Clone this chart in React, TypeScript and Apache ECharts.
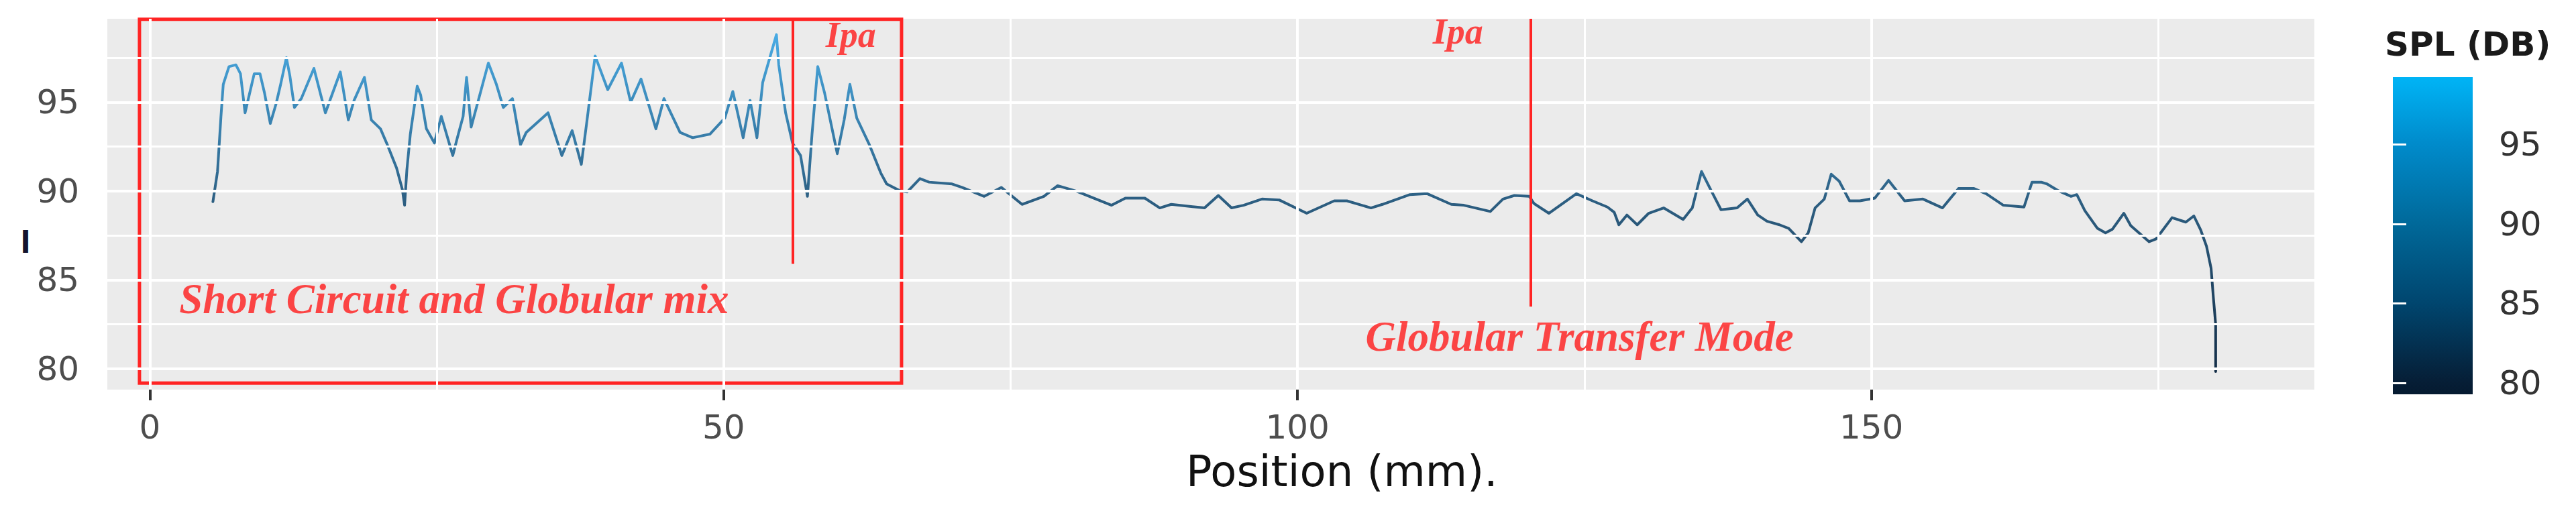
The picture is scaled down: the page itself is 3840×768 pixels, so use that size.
import React, { useEffect, useRef } from "react";
import * as echarts from "echarts";

// ---- data ----
const positions = [
  5.5, 5.9, 6.2, 6.4, 6.9, 7.5, 7.9, 8.3, 8.7, 9.1, 9.6, 10.0, 10.5, 11.0, 11.4, 11.9, 12.2, 12.6, 13.2, 14.3,
  15.3, 16.6, 17.3, 17.8, 18.7, 19.3, 20.1, 20.7, 21.5, 22.0, 22.2, 22.4, 22.7, 23.3, 23.6, 24.1, 24.8, 25.4,
  26.4, 26.8, 27.3, 27.6, 28.0, 29.0, 29.5, 30.2, 30.8, 31.6, 32.3, 32.8, 34.7, 35.9, 36.8, 37.6, 38.1, 38.8,
  39.9, 41.1, 41.9, 42.8, 44.1, 44.8, 46.2, 47.3, 48.8, 50.1, 50.8, 51.7, 52.3, 52.9, 53.4, 54.6, 54.8, 55.4,
  56.0, 56.7, 57.3, 57.7, 58.2, 58.8, 59.9, 60.5, 61.0, 61.6, 62.7, 63.7, 64.2, 65.4, 66.0, 67.1, 67.9, 69.9,
  70.8, 72.7, 74.2, 76.0, 77.9, 79.1, 80.7, 83.8, 85.0, 86.7, 88.0, 89.0, 91.9, 93.1, 94.25, 95.3, 96.9, 98.4,
  100.8, 103.2, 104.3, 106.4, 107.4, 109.8, 111.3, 113.4, 114.5, 116.8, 117.9, 118.9, 120.2, 120.6, 121.9,
  124.3, 125.7, 127.0, 127.6, 128.0, 128.7, 129.6, 130.6, 131.9, 133.6, 134.4, 135.2, 136.1, 136.9, 138.3,
  139.2, 140.1, 140.9, 142.0, 142.8, 143.9, 144.5, 145.1, 145.9, 146.5, 147.2, 148.1, 149.0, 150.3, 151.5,
  152.9, 154.5, 156.2, 157.6, 158.9, 160.0, 161.5, 163.3, 164.0, 164.8, 165.3, 166.2, 167.4, 167.9, 168.6,
  169.7, 170.4, 171.0, 172.0, 172.6, 174.2, 174.8, 176.2, 177.4, 178.1, 178.7, 179.2, 179.6, 179.8, 180.0, 180.0,
];
const spl = [
  89.4, 91.1, 94.2, 96.0, 97.0, 97.1, 96.6, 94.4, 95.5, 96.6, 96.6, 95.5, 93.8, 94.9, 96.0, 97.5, 96.5, 94.7, 95.2, 96.9,
  94.4, 96.7, 94.0, 95.1, 96.4, 94.0, 93.5, 92.6, 91.3, 90.1, 89.2, 91.2, 93.2, 95.9, 95.4, 93.5, 92.7, 94.2,
  92.0, 93.0, 94.2, 96.4, 93.6, 96.0, 97.2, 96.0, 94.7, 95.2, 92.6, 93.3, 94.4, 92.0, 93.4, 91.5, 94.0, 97.6,
  95.7, 97.2, 95.0, 96.3, 93.5, 95.2, 93.3, 93.0, 93.2, 94.1, 95.6, 93.0, 95.1, 93.0, 96.1, 98.8, 97.1, 94.4,
  92.7, 92.0, 89.7, 93.2, 97.0, 95.5, 92.1, 94.0, 96.0, 94.1, 92.6, 91.0, 90.4, 90.0, 89.95, 90.7, 90.5, 90.4,
  90.2, 89.7, 90.2, 89.25, 89.7, 90.3, 90.0, 89.2, 89.6, 89.6, 89.05, 89.25, 89.05, 89.75, 89.05, 89.2, 89.55, 89.5,
  88.75, 89.45, 89.45, 89.05, 89.25, 89.8, 89.85, 89.25, 89.2, 88.85, 89.55, 89.75, 89.7, 89.3, 88.75,
  89.85, 89.45, 89.1, 88.8, 88.1, 88.65, 88.1, 88.75, 89.05, 88.4, 89.05, 91.1, 89.95, 88.95, 89.05,
  89.55, 88.65, 88.3, 88.1, 87.9, 87.15, 87.65, 89.05, 89.55, 90.95, 90.55, 89.45, 89.45, 89.6, 90.6,
  89.45, 89.55, 89.05, 90.15, 90.15, 89.85, 89.2, 89.1, 90.5, 90.5, 90.4, 90.05, 89.7, 89.8, 88.9,
  87.9, 87.65, 87.85, 88.75, 88.05, 87.15, 87.3, 88.5, 88.25, 88.6, 87.8, 86.9, 85.65, 84.0, 82.5, 79.85,
];
const xTicks = [0, 50, 100, 150];
const xMinor = [25, 75, 125, 175];
const yTicks = [80, 85, 90, 95];
const yMinor = [82.5, 87.5, 92.5, 97.5];
const legendTicks = [80, 85, 90, 95];
const xRange = [-3.7, 188.6];
const yRange = [78.83, 99.69];
const legendRange = [79.28, 99.24];
const boxCorners = [[-0.9, 99.66], [65.5, 79.2]];
const redLineX = [56.0, 120.3];
const redLineTop = [99.69, 99.69];
const redLineBottom = [85.9, 83.5];
const annotationTexts = ["Short Circuit and Globular mix", "Ipa", "Ipa", "Globular Transfer Mode"];
const annotationX = [2.6, 61.1, 114.0, 105.95];
const annotationY = [83.92, 98.78, 98.94, 81.81];
const xTitle = "Position (mm).";
const legendTitle = "SPL (DB)";
const yTitleFragment = "l";

const SANS = "'DejaVu Sans', 'Liberation Sans', sans-serif";
const SERIF = "'Liberation Serif', 'Times New Roman', serif";

export default function App() {
  const ref = useRef<HTMLDivElement>(null);

  useEffect(() => {
    document.body.style.margin = "0";
    document.body.style.overflow = "hidden";
    if (!ref.current) return;
    const chart = echarts.init(ref.current, undefined, { renderer: "svg" });
    const data = positions.map((x, i) => [x, spl[i]]);

    const gridLines = [
      ...yTicks.map((v) => ({ yAxis: v, lineStyle: { width: 4 } })),
      ...yMinor.map((v) => ({ yAxis: v, lineStyle: { width: 3 } })),
      ...xTicks.map((v) => ({ xAxis: v, lineStyle: { width: 4 } })),
      ...xMinor.map((v) => ({ xAxis: v, lineStyle: { width: 3 } })),
    ];

    const annotations = annotationTexts.map((t, i) => ({
      name: t,
      value: [annotationX[i], annotationY[i]],
      label: {
        align: t === "Ipa" ? "center" : "left",
        fontSize: t === "Ipa" ? 54 : 63,
      },
    }));

    const option: any = {
      animation: false,
      backgroundColor: "#ffffff",
      grid: [
        { left: 160, top: 28, width: 3290, height: 553, show: true, backgroundColor: "#EBEBEB", borderWidth: 0 },
        { left: 3567, top: 115, width: 119, height: 473, show: false },
      ],
      xAxis: [
        {
          type: "value", gridIndex: 0, min: xRange[0], max: xRange[1],
          axisLine: { show: false }, splitLine: { show: false },
          axisTick: { show: true, customValues: xTicks, length: 16, lineStyle: { color: "#333333", width: 4 } },
          axisLabel: { customValues: xTicks, margin: 31, fontSize: 50, color: "#4D4D4D", fontFamily: SANS },
        },
        { type: "value", gridIndex: 1, min: 0, max: 1, show: false },
      ],
      yAxis: [
        {
          type: "value", gridIndex: 0, min: yRange[0], max: yRange[1],
          axisLine: { show: false }, splitLine: { show: false },
          axisTick: { show: true, customValues: yTicks, length: 20, lineStyle: { color: "#333333", width: 4 } },
          axisLabel: { customValues: yTicks, margin: 42, fontSize: 50, color: "#4D4D4D", fontFamily: SANS },
        },
        {
          type: "value", gridIndex: 1, min: legendRange[0], max: legendRange[1], position: "right", z: 10,
          axisLine: { show: false }, splitLine: { show: false },
          axisTick: { show: true, inside: true, customValues: legendTicks, length: 26, lineStyle: { color: "#ffffff", width: 3 } },
          axisLabel: { customValues: legendTicks, margin: 39, fontSize: 50, color: "#333333", fontFamily: SANS },
        },
        {
          type: "value", gridIndex: 1, min: legendRange[0], max: legendRange[1], position: "left", z: 10,
          axisLine: { show: false }, splitLine: { show: false },
          axisTick: { show: true, inside: true, customValues: legendTicks, length: 20, lineStyle: { color: "#ffffff", width: 3 } },
          axisLabel: { show: false },
        },
      ],
      visualMap: {
        type: "continuous", show: false, seriesIndex: 1, dimension: 1,
        min: legendRange[0], max: legendRange[1],
        inRange: { color: ["#132c45", "#2c5d80", "#49aee8"] },
      },
      series: [
        {
          type: "line", xAxisIndex: 0, yAxisIndex: 0, data, z: 1, silent: true,
          showSymbol: false, symbol: "none", lineStyle: { opacity: 0 },
          markLine: {
            silent: true, symbol: ["none", "none"], label: { show: false },
            lineStyle: { color: "#ffffff", type: "solid" },
            data: gridLines,
          },
        },
        {
          type: "line", xAxisIndex: 0, yAxisIndex: 0, data, z: 3,
          showSymbol: false, symbol: "none", lineStyle: { width: 4, join: "round", cap: "round" },
        },
        {
          type: "scatter", xAxisIndex: 0, yAxisIndex: 0, data: annotations, z: 5,
          symbolSize: 1, itemStyle: { color: "rgba(0,0,0,0)" }, silent: true,
          label: {
            show: true, formatter: "{b}", position: [0, 0], verticalAlign: "middle",
            fontFamily: SERIF, fontStyle: "italic", fontWeight: "bold", color: "#ff1a1a",
          },
          markArea: {
            silent: true, label: { show: false },
            itemStyle: { color: "rgba(0,0,0,0)", borderColor: "#ff2424", borderWidth: 5 },
            data: [[{ coord: boxCorners[0] }, { coord: boxCorners[1] }]],
          },
          markLine: {
            silent: true, symbol: ["none", "none"], label: { show: false },
            lineStyle: { color: "#ff2424", width: 4, type: "solid" },
            data: redLineX.map((x, i) => [{ coord: [x, redLineTop[i]] }, { coord: [x, redLineBottom[i]] }]),
          },
        },
        {
          type: "line", xAxisIndex: 1, yAxisIndex: 1, data: [[0, legendRange[0]], [1, legendRange[1]]],
          silent: true, showSymbol: false, symbol: "none", lineStyle: { opacity: 0 },
          markArea: {
            silent: true, label: { show: false },
            itemStyle: {
              color: new echarts.graphic.LinearGradient(0, 0, 0, 1, [
                { offset: 0, color: "#00b4f6" },
                { offset: 0.21, color: "#008bcb" },
                { offset: 0.46, color: "#00699a" },
                { offset: 0.71, color: "#00466f" },
                { offset: 0.96, color: "#061e36" },
                { offset: 1, color: "#051a30" },
              ]),
            },
            data: [[{ coord: [0, legendRange[1]] }, { coord: [1, legendRange[0]] }]],
          },
        },
      ],
      graphic: [
        {
          type: "text", x: 1768, y: 703,
          style: { text: xTitle, fontSize: 64, fontFamily: SANS, fill: "#111111", align: "left", verticalAlign: "middle" },
        },
        {
          type: "text", x: 3555, y: 66,
          style: { text: legendTitle, fontSize: 50, fontWeight: "bold", fontFamily: SANS, fill: "#1a1a1a", align: "left", verticalAlign: "middle" },
        },
        {
          type: "text", x: 38, y: 361,
          style: { text: yTitleFragment, fontSize: 44, fontWeight: "bold", fontFamily: SANS, fill: "#14142e", align: "center", verticalAlign: "middle" },
        },
      ],
    };
    chart.setOption(option);
    return () => chart.dispose();
  }, []);

  return <div ref={ref} style={{ width: 3840, height: 768 }} />;
}
